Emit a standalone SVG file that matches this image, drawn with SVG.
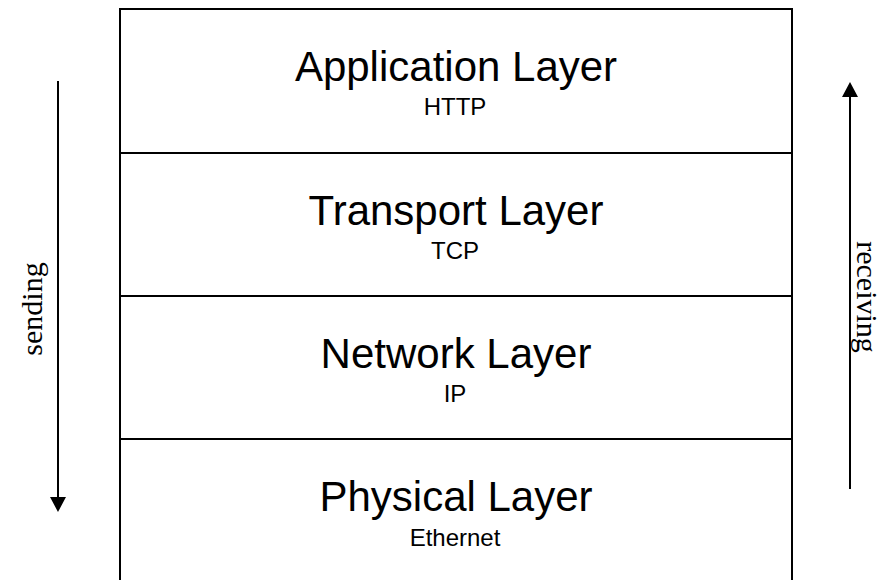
<svg xmlns="http://www.w3.org/2000/svg" width="878" height="580" viewBox="0 0 878 580">
<defs>
<style>
.layer{fill:#fff;stroke:#000;stroke-width:2}
.main{font-family:"Liberation Sans",Arial,sans-serif;font-size:42px;text-anchor:middle;fill:#000}
.sub{font-family:"Liberation Sans",Arial,sans-serif;font-size:24px;text-anchor:middle;fill:#000}
.side{font-family:"Liberation Serif","Times New Roman",serif;font-size:30px;text-anchor:middle;fill:#000}
.arrow{stroke:#000;stroke-width:2;fill:none}
</style>
<marker id="head" markerUnits="userSpaceOnUse" markerWidth="16" markerHeight="16" viewBox="0 0 16 16" refX="3" refY="8" orient="auto">
<path d="M0,0 L15,8 L0,16 Z" fill="#000"/>
</marker>
</defs>
<rect width="878" height="580" fill="#fff"/>
<g id="application">
<rect class="layer" x="120" y="9" width="672" height="144"/>
<text class="main" x="456" y="80.5">Application Layer</text>
<text class="sub" x="455" y="115">HTTP</text>
</g>
<g id="transport">
<rect class="layer" x="120" y="153" width="672" height="143"/>
<text class="main" x="456" y="224.5">Transport Layer</text>
<text class="sub" x="455" y="259">TCP</text>
</g>
<g id="network">
<rect class="layer" x="120" y="296" width="672" height="143"/>
<text class="main" x="456" y="367.5">Network Layer</text>
<text class="sub" x="455" y="402">IP</text>
</g>
<g id="physical">
<rect class="layer" x="120" y="439" width="672" height="160"/>
<text class="main" x="456" y="510.5">Physical Layer</text>
<text class="sub" x="455" y="546">Ethernet</text>
</g>
<g id="connectors">
<line class="arrow" x1="58" y1="81" x2="58" y2="500" marker-end="url(#head)"/>
<line class="arrow" x1="850" y1="489" x2="850" y2="94" marker-end="url(#head)"/>
</g>
<g id="labels">
<text class="side" font-size="31" transform="translate(42,309) rotate(-90)">sending</text>
<text class="side" transform="translate(857,297) rotate(90)">receiving</text>
</g>
</svg>
